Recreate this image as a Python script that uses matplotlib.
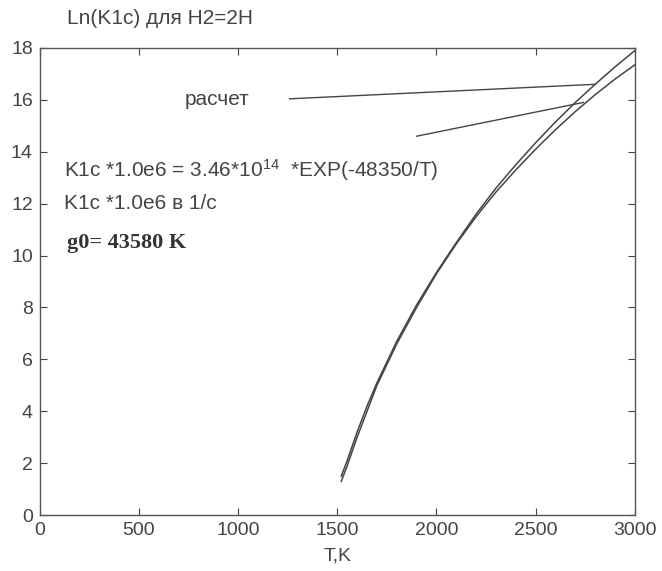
import matplotlib.pyplot as plt

plt.rcParams["font.family"] = ["Liberation Sans", "DejaVu Sans"]
plt.rcParams["mathtext.default"] = "regular"

# temperature grid, K
T = [1520, 1550, 1600, 1650, 1700, 1800, 1900, 2000, 2100, 2200,
     2300, 2400, 2500, 2600, 2700, 2800, 2900, 3000]
# fit curve Ln(K1c)
LN_FIT = [1.3, 1.9, 3.0, 4.0, 5.0, 6.6, 8.0, 9.3, 10.45, 11.5,
          12.45, 13.3, 14.1, 14.85, 15.55, 16.2, 16.8, 17.35]
# "расчет" curve
LN_CALC = [1.5, 2.1, 3.2, 4.2, 5.1, 6.7, 8.1, 9.35, 10.5, 11.6,
           12.6, 13.5, 14.35, 15.15, 15.9, 16.6, 17.27, 17.9]

X_TICKS = [0, 500, 1000, 1500, 2000, 2500, 3000]
Y_TICKS = [0, 2, 4, 6, 8, 10, 12, 14, 16, 18]

GRAY = "#444444"

fig = plt.figure(figsize=(6.62, 5.71), dpi=100)
ax = fig.add_axes([0.060, 0.098, 0.899, 0.818])

ax.plot(T, LN_CALC, color=GRAY, linewidth=1.1)
ax.plot(T, LN_FIT, color=GRAY, linewidth=1.1)

# leader lines from the label to both curves
ax.plot([1260, 2800], [16.04, 16.6], color=GRAY, linewidth=1.0)
ax.plot([1900, 2740], [14.6, 15.9], color=GRAY, linewidth=1.0)

ax.text(730, 16.0, "расчет", fontsize=15, color=GRAY, va="center")
ax.text(120, 13.3, "K1c *1.0e6 = 3.46*10$^{14}$  *EXP(-48350/T)",
        fontsize=15, color=GRAY, va="center")
ax.text(120, 12.0, "K1c *1.0e6 в 1/с", fontsize=15, color=GRAY, va="center")
ax.text(135, 10.5, "g0= 43580 K", fontsize=16, color="#333333", va="center",
        family="Liberation Serif", fontweight="bold")

fig.text(0.242, 0.968, "Ln(K1c) для H2=2H", fontsize=15, color=GRAY,
         ha="center", va="center")

ax.set_xlim(0, 3000)
ax.set_ylim(0, 18)
ax.set_xticks(X_TICKS)
ax.set_yticks(Y_TICKS)
ax.set_xlabel("T,K", fontsize=14, color=GRAY, labelpad=6)
ax.tick_params(direction="in", top=True, right=True, length=5,
               labelsize=14, colors=GRAY, pad=5)
for side in ax.spines.values():
    side.set_color("#555555")
    side.set_linewidth(1.0)

fig.savefig("out.png", dpi=100)
